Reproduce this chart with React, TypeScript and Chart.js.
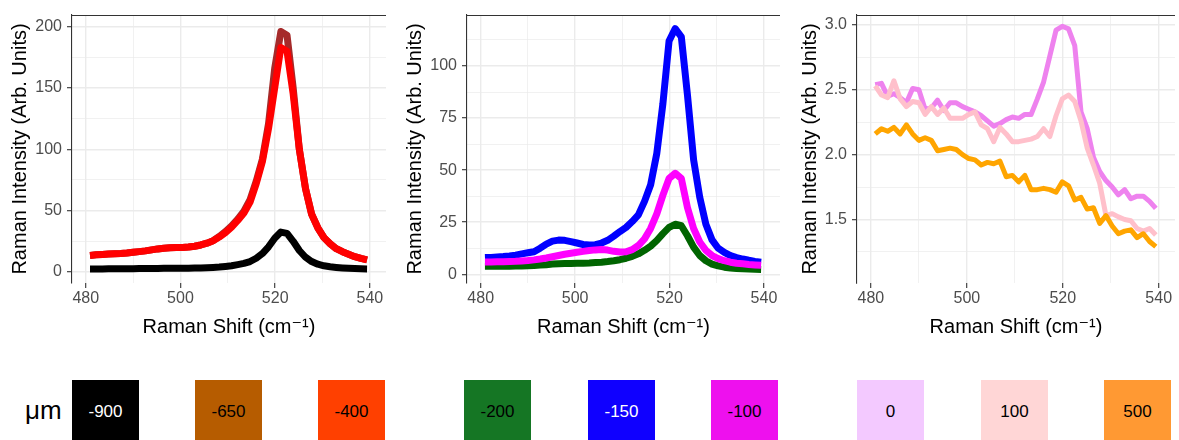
import React, { useEffect, useRef } from "react";
import { Chart, registerables } from "chart.js";

Chart.register(...registerables);

const FONT = "'Liberation Sans', Arial, Helvetica, 'DejaVu Sans', sans-serif";

// ---------------- data ----------------
const ramanShift = [
  480.9, 482.2, 483.5, 484.8, 486.1, 487.4, 488.7, 490.0, 491.3, 492.6,
  493.9, 495.2, 496.5, 497.8, 499.1, 500.4, 501.7, 503.0, 504.3, 505.6,
  506.9, 508.2, 509.5, 510.8, 512.1, 513.4, 514.7, 516.0, 517.3, 518.6,
  519.9, 521.2, 522.5, 523.8, 525.1, 526.4, 527.7, 529.0, 530.3, 531.6,
  532.9, 534.2, 535.5, 536.8, 538.1, 539.4,
];

// panel 1
const depthM900 = [
  2.5, 2.5, 2.5, 2.6, 2.6, 2.6, 2.7, 2.7, 2.8, 2.8,
  2.9, 2.9, 3.0, 3.0, 3.0, 3.1, 3.1, 3.2, 3.3, 3.5,
  3.7, 4.0, 4.5, 5.1, 6.0, 7.0, 8.5, 11.2, 15.0, 20.5,
  27.5, 32.5, 31.5, 25.0, 17.5, 12.0, 8.5, 6.3, 5.0, 4.2,
  3.7, 3.3, 3.0, 2.8, 2.6, 2.5,
];
const depthM650 = [
  13.5, 14.0, 14.3, 14.6, 14.8, 15.0, 15.4, 16.0, 16.6, 17.2,
  18.0, 18.8, 19.4, 19.7, 19.9, 20.0, 20.3, 21.0, 22.0, 23.5,
  25.5, 29.0, 33.0, 37.5, 43.0, 49.5, 59.0, 74.0, 92.0, 121.0,
  166.0, 196.0, 193.0, 150.0, 100.0, 68.0, 47.0, 36.0, 28.0, 23.0,
  19.0, 16.5, 14.5, 12.5, 11.0, 9.8,
];
const depthM400 = [
  13.5, 14.0, 14.3, 14.6, 14.8, 15.0, 15.4, 16.0, 16.6, 17.2,
  18.0, 18.8, 19.4, 19.7, 19.9, 20.0, 20.3, 21.0, 22.0, 23.5,
  25.5, 28.5, 32.0, 36.5, 42.0, 48.0, 57.0, 72.0, 90.0, 117.0,
  150.0, 183.0, 180.0, 145.0, 100.0, 68.0, 47.0, 36.0, 28.0, 23.0,
  19.0, 16.5, 14.5, 12.5, 11.0, 9.8,
];

// panel 2
const depthM200 = [
  3.8, 3.8, 3.8, 3.9, 3.9, 4.0, 4.0, 4.1, 4.2, 4.4,
  4.6, 4.9, 5.1, 5.2, 5.2, 5.3, 5.3, 5.4, 5.6, 5.8,
  6.1, 6.5, 7.0, 7.7, 8.6, 9.8, 11.5, 13.5, 16.2, 19.5,
  22.5, 24.0, 23.3, 18.5, 13.0, 9.0, 6.5, 4.9, 4.0, 3.4,
  3.0, 2.8, 2.6, 2.5, 2.4, 2.3,
];
const depthM150 = [
  8.0, 8.1, 8.3, 8.5, 8.8, 9.2, 9.8, 10.3, 10.8, 12.5,
  14.5, 15.9, 16.4, 16.3, 15.7, 15.0, 14.3, 14.0, 14.2, 15.0,
  16.3, 18.3, 20.5, 22.5, 25.3, 28.5, 35.0, 43.0, 58.0, 82.0,
  112.0, 118.0, 114.0, 86.0, 55.0, 37.0, 24.0, 16.5, 12.5, 10.5,
  9.0, 8.0, 7.3, 6.7, 6.2, 5.8,
];
const depthM100 = [
  5.9, 5.9, 6.0, 6.0, 6.1, 6.2, 6.4, 6.6, 6.9, 7.3,
  7.8, 8.4, 9.0, 9.6, 10.1, 10.6, 11.0, 11.4, 11.7, 11.9,
  11.6, 11.0, 10.7, 10.8, 11.8, 13.8, 17.0, 22.0, 29.0, 38.0,
  46.0, 48.5, 46.0, 32.0, 22.0, 15.5, 11.5, 9.0, 7.5, 6.5,
  5.8, 5.3, 5.0, 4.7, 4.5, 4.3,
];

// panel 3
const depth0 = [
  2.54, 2.55, 2.45, 2.47, 2.44, 2.40, 2.51, 2.50, 2.35, 2.36,
  2.42, 2.34, 2.40, 2.40, 2.37, 2.35, 2.33, 2.30, 2.26, 2.22,
  2.24, 2.27, 2.29, 2.28, 2.31, 2.31, 2.43, 2.56, 2.76, 2.96,
  2.99, 2.97, 2.84, 2.33, 2.20, 1.98, 1.87, 1.80, 1.75, 1.69,
  1.73, 1.66, 1.68, 1.68, 1.64, 1.585,
];
const depth100 = [
  2.53, 2.46, 2.44, 2.57, 2.43, 2.37, 2.41, 2.40, 2.31, 2.37,
  2.31, 2.36, 2.28, 2.28, 2.28, 2.31, 2.33, 2.23, 2.20, 2.10,
  2.21, 2.16, 2.10, 2.10, 2.11, 2.12, 2.14, 2.20, 2.14, 2.30,
  2.43, 2.46, 2.41, 2.26, 2.05, 1.92, 1.78, 1.53, 1.545, 1.52,
  1.50, 1.49, 1.43, 1.41, 1.43, 1.38,
];
const depth500 = [
  2.16, 2.20, 2.18, 2.21, 2.16, 2.23, 2.16, 2.11, 2.13, 2.11,
  2.03, 2.04, 2.05, 2.04, 2.00, 1.97, 1.96, 1.92, 1.94, 1.93,
  1.95, 1.83, 1.84, 1.79, 1.84, 1.73, 1.73, 1.74, 1.73, 1.71,
  1.79, 1.76, 1.65, 1.67, 1.58, 1.59, 1.47, 1.53, 1.45, 1.39,
  1.41, 1.42, 1.36, 1.39, 1.33, 1.29,
];

// ticks
const xGrid = [480, 490, 500, 510, 520, 530, 540];
const xMajor = [480, 500, 520, 540];
const yGrid1 = [0, 25, 50, 75, 100, 125, 150, 175, 200];
const yMajor1 = [0, 50, 100, 150, 200];
const yGrid2 = [0, 12.5, 25, 37.5, 50, 62.5, 75, 87.5, 100, 112.5];
const yMajor2 = [0, 25, 50, 75, 100];
const yGrid3 = [1.25, 1.5, 1.75, 2, 2.25, 2.5, 2.75, 3];
const yMajor3 = [1.5, 2, 2.5, 3];

// legend
const legendLabels = ["-900", "-650", "-400", "-200", "-150", "-100", "0", "100", "500"];
const legendFill = ["#000000", "#B65C00", "#FF4000", "#157624", "#0F00FF", "#EE10EE", "#F3C9FF", "#FFD6D6", "#FF9933"];
const legendInk = ["#FFFFFF", "#000000", "#000000", "#000000", "#FFFFFF", "#000000", "#000000", "#000000", "#000000"];

// ---------------- layout / style ----------------
const CANVAS_H = 345;
const legendLeft = [72, 195, 318, 464, 588, 711, 857, 981, 1104];

type Series = { label: string; values: number[]; color: string; order: number };
type PanelSpec = {
  left: number;
  width: number;
  yWidth: number;
  padRight: number;
  yMin: number;
  yMax: number;
  yGrid: number[];
  yMajor: number[];
  decimals: number;
  lineWidth: number;
  series: Series[];
};

const panels: PanelSpec[] = [
  {
    left: 0, width: 392, yWidth: 72, padRight: 6,
    yMin: -9, yMax: 209.5, yGrid: yGrid1, yMajor: yMajor1, decimals: 0, lineWidth: 7,
    series: [
      { label: "-900", values: depthM900, color: "#000000", order: 3 },
      { label: "-650", values: depthM650, color: "#A52A2A", order: 2 },
      { label: "-400", values: depthM400, color: "#FF0000", order: 1 },
    ],
  },
  {
    left: 395, width: 392, yWidth: 72, padRight: 7,
    yMin: -4.2, yMax: 124.5, yGrid: yGrid2, yMajor: yMajor2, decimals: 0, lineWidth: 7,
    series: [
      { label: "-200", values: depthM200, color: "#006400", order: 3 },
      { label: "-150", values: depthM150, color: "#0000FF", order: 2 },
      { label: "-100", values: depthM100, color: "#FF00FF", order: 1 },
    ],
  },
  {
    left: 790, width: 389, yWidth: 67, padRight: 4,
    yMin: 1.01, yMax: 3.077, yGrid: yGrid3, yMajor: yMajor3, decimals: 1, lineWidth: 5,
    series: [
      { label: "0", values: depth0, color: "#EE82EE", order: 3 },
      { label: "100", values: depth100, color: "#FFC0CB", order: 2 },
      { label: "500", values: depth500, color: "#FFA500", order: 1 },
    ],
  },
];

const topLine = {
  id: "topLine",
  afterDraw(chart: any) {
    const { ctx, chartArea } = chart;
    ctx.save();
    ctx.strokeStyle = "#333333";
    ctx.lineWidth = 1.1;
    ctx.beginPath();
    ctx.moveTo(chartArea.left, chartArea.top + 0.5);
    ctx.lineTo(chartArea.right, chartArea.top + 0.5);
    ctx.stroke();
    ctx.restore();
  },
};

const near = (arr: number[], v: any) => arr.some((a) => Math.abs(a - Number(v)) < 1e-6);

function buildConfig(p: PanelSpec): any {
  return {
    type: "line",
    data: {
      datasets: p.series.map((s) => ({
        label: s.label,
        data: ramanShift.map((x, i) => ({ x, y: s.values[i] })),
        borderColor: s.color,
        backgroundColor: s.color,
        borderWidth: p.lineWidth,
        pointRadius: 0,
        tension: 0,
        fill: false,
        order: s.order,
        borderJoinStyle: "round",
        borderCapStyle: "butt",
      })),
    },
    options: {
      responsive: false,
      animation: false,
      devicePixelRatio: 1,
      layout: { padding: { left: 0, right: p.padRight, top: 15, bottom: 6 } },
      plugins: { legend: { display: false }, tooltip: { enabled: false } },
      scales: {
        x: {
          type: "linear",
          min: 477.1,
          max: 543.4,
          afterBuildTicks: (s: any) => {
            s.ticks = xGrid.map((v) => ({ value: v }));
          },
          afterFit: (s: any) => {
            s.height = 56;
          },
          border: { display: false },
          grid: {
            color: "#EBEBEB",
            lineWidth: (c: any) => (near(xMajor, c.tick?.value) ? 1.4 : 0.7),
            tickColor: (c: any) => (near(xMajor, c.tick?.value) ? "#333333" : "rgba(0,0,0,0)"),
            tickLength: 5,
            tickWidth: 1.1,
          },
          ticks: {
            autoSkip: false,
            maxRotation: 0,
            padding: 1,
            color: "#4D4D4D",
            font: { family: FONT, size: 16 },
            callback: (v: any) => (near(xMajor, v) ? String(v) : ""),
          },
          title: {
            display: true,
            text: "Raman Shift (cm\u207B\u00B9)",
            color: "#000000",
            font: { family: FONT, size: 20 },
            padding: { top: 0, bottom: 0 },
          },
        },
        y: {
          type: "linear",
          min: p.yMin,
          max: p.yMax,
          afterBuildTicks: (s: any) => {
            s.ticks = p.yGrid.map((v) => ({ value: v }));
          },
          afterFit: (s: any) => {
            s.width = p.yWidth;
          },
          border: { display: true, color: "#333333", width: 1.1 },
          grid: {
            color: "#EBEBEB",
            lineWidth: (c: any) => (near(p.yMajor, c.tick?.value) ? 1.4 : 0.7),
            tickColor: (c: any) => (near(p.yMajor, c.tick?.value) ? "#333333" : "rgba(0,0,0,0)"),
            tickLength: 5,
            tickWidth: 1.1,
          },
          ticks: {
            autoSkip: false,
            padding: 5,
            color: "#4D4D4D",
            font: { family: FONT, size: 16 },
            callback: (v: any) => (near(p.yMajor, v) ? Number(v).toFixed(p.decimals) : ""),
          },
          title: {
            display: true,
            text: "Raman Intensity (Arb. Units)",
            color: "#000000",
            font: { family: FONT, size: 20 },
            padding: { top: 8, bottom: 0 },
          },
        },
      },
    },
    plugins: [topLine],
  };
}

function Panel({ spec }: { spec: PanelSpec }) {
  const ref = useRef<HTMLCanvasElement>(null);
  useEffect(() => {
    const chart = new Chart(ref.current as HTMLCanvasElement, buildConfig(spec));
    return () => chart.destroy();
  }, [spec]);
  return (
    <canvas
      ref={ref}
      width={spec.width}
      height={CANVAS_H}
      style={{ position: "absolute", left: spec.left, top: 0, width: spec.width, height: CANVAS_H }}
    />
  );
}

export default function App() {
  return (
    <div
      style={{
        position: "absolute",
        left: 0,
        top: 0,
        width: 1179,
        height: 440,
        overflow: "hidden",
        background: "#FFFFFF",
        fontFamily: FONT,
      }}
    >
      {panels.map((p, i) => (
        <Panel key={i} spec={p} />
      ))}
      <div
        style={{
          position: "absolute",
          left: 25,
          top: 394,
          height: 32,
          lineHeight: "32px",
          fontSize: 26,
          color: "#000000",
        }}
      >
        μm
      </div>
      {legendLabels.map((lab, i) => (
        <div
          key={lab}
          style={{
            position: "absolute",
            left: legendLeft[i],
            top: 380,
            width: 67,
            height: 64,
            background: legendFill[i],
            color: legendInk[i],
            fontSize: 17,
            display: "flex",
            alignItems: "center",
            justifyContent: "center",
          }}
        >
          {lab}
        </div>
      ))}
    </div>
  );
}
